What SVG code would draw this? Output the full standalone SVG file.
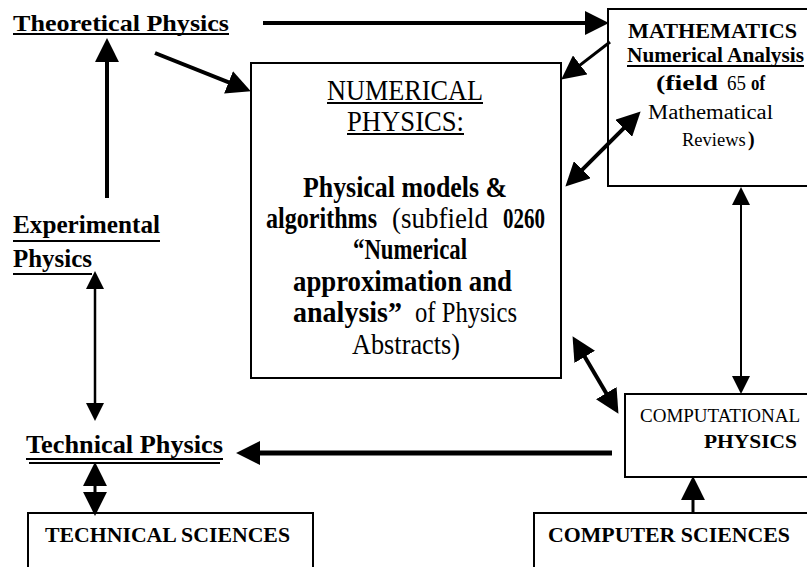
<svg xmlns="http://www.w3.org/2000/svg" width="807" height="567" viewBox="0 0 807 567">
<style>
text{font-family:"Liberation Serif","Times New Roman",serif;fill:#000}
.b{font-weight:bold}
.r{font-weight:normal}
.box{fill:#fff;stroke:#000;stroke-width:2}
.ul{stroke:#000;stroke-width:2}
.c{stroke:#000;fill:none}
</style>
<defs>
<marker id="ah" markerUnits="userSpaceOnUse" markerWidth="24" markerHeight="24" refX="12" refY="11" orient="auto-start-reverse" viewBox="0 0 22 22"><path d="M0,0 L22,11 L0,22 z" fill="#000"/></marker>
<marker id="as" markerUnits="userSpaceOnUse" markerWidth="18" markerHeight="18" refX="8" refY="8" orient="auto-start-reverse" viewBox="0 0 16 16"><path d="M0,0 L16,8 L0,16 z" fill="#000"/></marker>
</defs>

<g id="theoretical">
<text class="b" x="13" y="31" font-size="24" textLength="216" lengthAdjust="spacingAndGlyphs">Theoretical  Physics</text>
<line class="ul" x1="13" y1="34" x2="229" y2="34"/>
</g>

<g id="experimental">
<text class="b" x="13" y="233" font-size="26" textLength="147" lengthAdjust="spacingAndGlyphs">Experimental</text>
<line class="ul" x1="13" y1="241" x2="160" y2="241"/>
<text class="b" x="13" y="267" font-size="26" textLength="79" lengthAdjust="spacingAndGlyphs">Physics</text>
<line class="ul" x1="13" y1="274" x2="92" y2="274"/>
</g>

<g id="technical">
<text class="b" x="26" y="453" font-size="25" textLength="197" lengthAdjust="spacingAndGlyphs">Technical  Physics</text>
<line class="ul" x1="26" y1="459" x2="223" y2="459" stroke-width="1.5"/>
<line class="ul" x1="29" y1="463" x2="220" y2="463" stroke-width="1.5"/>
</g>

<g id="numerical">
<rect class="box" x="251" y="63" width="310" height="315"/>
<text class="r" x="327" y="100" font-size="29" textLength="156" lengthAdjust="spacingAndGlyphs">NUMERICAL</text>
<line class="ul" x1="327" y1="103" x2="483" y2="103" stroke-width="1.5"/>
<text class="r" x="347" y="131" font-size="29" textLength="117" lengthAdjust="spacingAndGlyphs">PHYSICS:</text>
<line class="ul" x1="347" y1="134" x2="464" y2="134" stroke-width="1.5"/>
<text class="b" x="303" y="197" font-size="29" textLength="204" lengthAdjust="spacingAndGlyphs">Physical  models &amp;</text>
<text class="b" x="266" y="228" font-size="29" textLength="111" lengthAdjust="spacingAndGlyphs">algorithms</text>
<text class="r" x="392" y="228" font-size="29" textLength="96" lengthAdjust="spacingAndGlyphs">(subfield</text>
<text class="b" x="503" y="228" font-size="29" textLength="42" lengthAdjust="spacingAndGlyphs">0260</text>
<text class="b" x="353" y="259" font-size="29" textLength="114" lengthAdjust="spacingAndGlyphs">“Numerical</text>
<text class="b" x="293" y="291" font-size="29" textLength="219" lengthAdjust="spacingAndGlyphs">approximation  and</text>
<text class="b" x="293" y="322" font-size="29" textLength="109" lengthAdjust="spacingAndGlyphs">analysis”</text>
<text class="r" x="415" y="322" font-size="29" textLength="102" lengthAdjust="spacingAndGlyphs">of Physics</text>
<text class="r" x="352" y="354" font-size="29" textLength="108" lengthAdjust="spacingAndGlyphs">Abstracts)</text>
</g>

<g id="mathematics">
<rect class="box" x="608" y="9" width="205" height="177"/>
<text class="b" x="628" y="38" font-size="20" textLength="169" lengthAdjust="spacingAndGlyphs">MATHEMATICS</text>
<text class="b" x="627" y="62" font-size="20" textLength="177" lengthAdjust="spacingAndGlyphs">Numerical Analysis</text>
<line class="ul" x1="627" y1="66" x2="804" y2="66" stroke-width="1.5"/>
<text class="b" x="656" y="90" font-size="22" textLength="62" lengthAdjust="spacingAndGlyphs">(field</text>
<text class="r" x="727" y="90" font-size="21" textLength="19" lengthAdjust="spacingAndGlyphs">65</text>
<text class="b" x="751" y="90" font-size="21" textLength="14" lengthAdjust="spacingAndGlyphs">of</text>
<text class="r" x="648" y="119" font-size="20" textLength="125" lengthAdjust="spacingAndGlyphs">Mathematical</text>
<text class="r" x="682" y="146" font-size="18.5">Reviews</text>
<text class="b" x="748" y="146" font-size="20">)</text>
</g>

<g id="computational">
<rect class="box" x="625" y="394" width="190" height="83"/>
<text class="r" x="640" y="422" font-size="18" textLength="160" lengthAdjust="spacingAndGlyphs">COMPUTATIONAL</text>
<text class="b" x="704" y="448" font-size="19" textLength="93" lengthAdjust="spacingAndGlyphs">PHYSICS</text>
</g>

<g id="technical-sciences">
<rect class="box" x="28" y="513" width="285" height="70"/>
<text class="b" x="45" y="542" font-size="22" textLength="245" lengthAdjust="spacingAndGlyphs">TECHNICAL  SCIENCES</text>
</g>

<g id="computer-sciences">
<rect class="box" x="534" y="513" width="290" height="70"/>
<text class="b" x="548" y="542" font-size="22" textLength="242" lengthAdjust="spacingAndGlyphs">COMPUTER  SCIENCES</text>
</g>

<g id="connectors">
<line class="c" x1="263" y1="23" x2="598" y2="23" stroke-width="4" marker-end="url(#ah)"/>
<line class="c" x1="155" y1="53" x2="240.7" y2="87.2" stroke-width="4" marker-end="url(#ah)"/>
<line class="c" x1="107" y1="198" x2="107" y2="49" stroke-width="4" marker-end="url(#ah)"/>
<line class="c" x1="610" y1="42" x2="569.9" y2="72.9" stroke-width="3" marker-end="url(#ah)"/>
<line class="c" x1="573.1" y1="178.9" x2="632.9" y2="119.1" stroke-width="4" marker-start="url(#ah)" marker-end="url(#ah)"/>
<line class="c" x1="741" y1="196" x2="741" y2="385" stroke-width="2" marker-start="url(#as)" marker-end="url(#as)"/>
<line class="c" x1="95" y1="280" x2="95" y2="412" stroke-width="2.5" marker-start="url(#as)" marker-end="url(#as)"/>
<line class="c" x1="578.1" y1="345.6" x2="612.9" y2="404.4" stroke-width="4" marker-start="url(#ah)" marker-end="url(#ah)"/>
<line class="c" x1="612" y1="453" x2="247" y2="453" stroke-width="5" marker-end="url(#ah)"/>
<line class="c" x1="95" y1="473" x2="95" y2="505" stroke-width="3" marker-start="url(#ah)" marker-end="url(#ah)"/>
<line class="c" x1="693" y1="513" x2="693" y2="487" stroke-width="3" marker-end="url(#ah)"/>
</g>
</svg>
